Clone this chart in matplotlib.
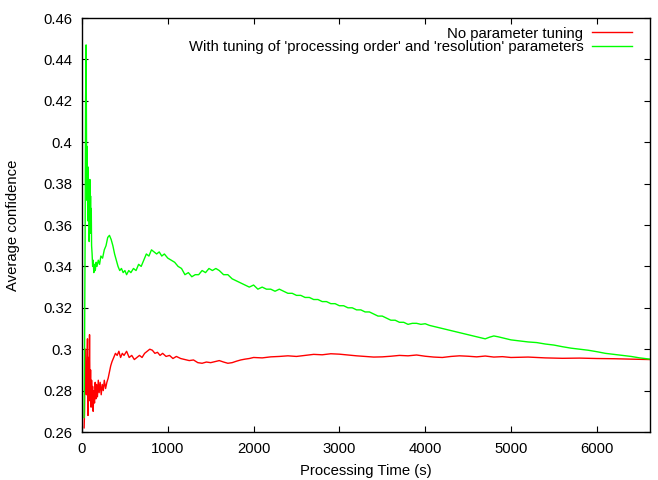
import matplotlib
matplotlib.use('Agg')
import matplotlib.pyplot as plt

plt.rcParams.update({'font.family': ['Liberation Sans', 'DejaVu Sans'], 'font.size': 10.7})

RED, GREEN = '#ff0000', '#00ff00'

# ── data ──
green_x = [25, 30, 36, 42, 48, 52, 56, 60, 64, 68, 72, 76, 80, 84, 88, 92, 96, 100, 104,
           108, 112, 118, 124, 130, 138, 146, 155, 165, 175, 190, 205, 220, 240, 260,
           280, 300, 320, 340, 360, 380, 400, 420, 440, 460, 480, 500, 520, 545, 570,
           600, 630, 660, 690, 720, 750, 780, 810, 840, 870, 900, 930, 960, 1000, 1040,
           1080, 1120, 1160, 1200, 1240, 1280, 1320, 1360, 1400, 1440, 1480, 1520, 1560,
           1600, 1650, 1700, 1750, 1800, 1850, 1900, 1950, 2000, 2050, 2100, 2150, 2200,
           2250, 2300, 2350, 2400, 2450, 2500, 2550, 2600, 2650, 2700, 2750, 2800, 2850,
           2900, 2950, 3000, 3050, 3100, 3150, 3200, 3250, 3300, 3350, 3400, 3450, 3500,
           3550, 3600, 3650, 3700, 3750, 3800, 3850, 3900, 3950, 4000, 4050, 4100, 4150,
           4200, 4250, 4300, 4350, 4400, 4450, 4500, 4550, 4600, 4650, 4700, 4750, 4800,
           4850, 4900, 4950, 5000, 5100, 5200, 5300, 5400, 5500, 5600, 5700, 5800, 5900,
           6000, 6100, 6200, 6300, 6400, 6500, 6620]
green_y = [0.267, 0.300, 0.350, 0.420, 0.447, 0.410, 0.372, 0.398, 0.380, 0.362, 0.388, 0.370,
           0.378, 0.352, 0.368, 0.382, 0.360, 0.374, 0.356, 0.368, 0.350, 0.346, 0.340,
           0.343, 0.337, 0.341, 0.338, 0.342, 0.340, 0.343, 0.341, 0.345, 0.344, 0.348,
           0.350, 0.354, 0.355, 0.353, 0.350, 0.346, 0.343, 0.340, 0.338, 0.339, 0.337,
           0.338, 0.336, 0.338, 0.337, 0.339, 0.338, 0.341, 0.340, 0.343, 0.346, 0.345,
           0.348, 0.347, 0.346, 0.347, 0.345, 0.346, 0.344, 0.343, 0.342, 0.340, 0.339,
           0.336, 0.337, 0.335, 0.336, 0.336, 0.338, 0.337, 0.339, 0.338, 0.339, 0.338,
           0.336, 0.336, 0.334, 0.333, 0.332, 0.331, 0.330, 0.331, 0.329, 0.330, 0.329,
           0.329, 0.328, 0.329, 0.328, 0.327, 0.327, 0.326, 0.326, 0.325, 0.325, 0.324,
           0.324, 0.323, 0.323, 0.322, 0.322, 0.321, 0.321, 0.320, 0.320, 0.319, 0.319,
           0.318, 0.318, 0.317, 0.316, 0.316, 0.315, 0.314, 0.314, 0.313, 0.313, 0.312,
           0.3125, 0.3125, 0.312, 0.3123, 0.3115, 0.311, 0.3105, 0.310, 0.3095, 0.309,
           0.3085, 0.308, 0.3075, 0.307, 0.3065, 0.306, 0.3055, 0.305, 0.3058, 0.3064,
           0.306, 0.3055, 0.305, 0.3045, 0.304, 0.3035, 0.3032, 0.3025, 0.302, 0.3012,
           0.3005, 0.300, 0.2995, 0.2988, 0.298, 0.2975, 0.297, 0.2965, 0.2958, 0.2952]

red_x = [25, 30, 35, 40, 46, 52, 58, 64, 70, 76, 82, 88, 94, 100, 106, 112, 118, 124,
         130, 138, 146, 154, 162, 170, 180, 190, 200, 212, 224, 236, 248, 260, 275, 290,
         305, 320, 335, 350, 370, 390, 410, 430, 450, 470, 490, 520, 550, 580, 610, 640,
         670, 700, 730, 760, 790, 820, 850, 880, 910, 940, 980, 1020, 1060, 1100, 1150,
         1200, 1250, 1300, 1350, 1400, 1450, 1500, 1550, 1600, 1650, 1700, 1750, 1800,
         1850, 1900, 1950, 2000, 2100, 2200, 2300, 2400, 2500, 2600, 2700, 2800, 2900,
         3000, 3100, 3200, 3300, 3400, 3500, 3600, 3700, 3800, 3900, 4000, 4100, 4200,
         4300, 4400, 4500, 4600, 4700, 4800, 4900, 5000, 5200, 5400, 5600, 5800, 6000,
         6200, 6400, 6620]
red_y = [0.262, 0.270, 0.290, 0.300, 0.283, 0.278, 0.292, 0.305, 0.268, 0.296, 0.280, 0.307,
         0.275, 0.290, 0.272, 0.285, 0.276, 0.282, 0.270, 0.280, 0.274, 0.284, 0.276,
         0.283, 0.277, 0.285, 0.279, 0.284, 0.278, 0.283, 0.280, 0.285, 0.281, 0.284,
         0.286, 0.289, 0.292, 0.294, 0.296, 0.298, 0.297, 0.299, 0.296, 0.298, 0.297,
         0.299, 0.296, 0.297, 0.295, 0.296, 0.297, 0.296, 0.298, 0.299, 0.300, 0.2995,
         0.298, 0.2985, 0.297, 0.298, 0.2965, 0.297, 0.2955, 0.2965, 0.2955, 0.295,
         0.2945, 0.2948, 0.2935, 0.2932, 0.2938, 0.2935, 0.294, 0.2945, 0.2938, 0.2932,
         0.2935, 0.2942, 0.2948, 0.2952, 0.2955, 0.296, 0.2958, 0.2963, 0.2965, 0.2968,
         0.2965, 0.297, 0.2975, 0.2973, 0.2978, 0.2976, 0.2972, 0.2968, 0.2965, 0.2962,
         0.2963, 0.2966, 0.297, 0.2968, 0.2972, 0.2966, 0.2962, 0.296, 0.2965, 0.2968,
         0.2966, 0.2963, 0.2967, 0.2962, 0.2964, 0.296, 0.2962, 0.2958, 0.2956, 0.2957,
         0.2955, 0.2954, 0.2952, 0.295]

fig = plt.figure(figsize=(6.58, 4.8), dpi=100)
ax = fig.add_axes([0.1246, 0.1, 0.8632, 0.8625])
ax.plot(red_x, red_y, color=RED, lw=1, label='No parameter tuning')
ax.plot(green_x, green_y, color=GREEN, lw=1,
        label="With tuning of 'processing order' and 'resolution' parameters")

ax.set_xlim(0, 6620)
ax.set_ylim(0.26, 0.46)
ax.set_xticks(range(0, 7000, 1000))
ax.set_yticks([0.26 + 0.02 * i for i in range(11)])
ax.set_yticklabels(['0.26', '0.28', '0.3', '0.32', '0.34', '0.36', '0.38',
                    '0.4', '0.42', '0.44', '0.46'])
ax.tick_params(direction='in', top=True, right=True, length=4, pad=7)
for s in ax.spines.values():
    s.set_linewidth(1)
ax.set_xlabel('Processing Time (s)', labelpad=6)
ax.set_ylabel('Average confidence', labelpad=17)
ax.legend(loc='upper right', bbox_to_anchor=(0.968, 0.979), frameon=False,
          markerfirst=False, handlelength=2.7, borderaxespad=0, borderpad=0,
          labelspacing=-0.05, handletextpad=0.55)

fig.savefig('out.png', dpi=100)
